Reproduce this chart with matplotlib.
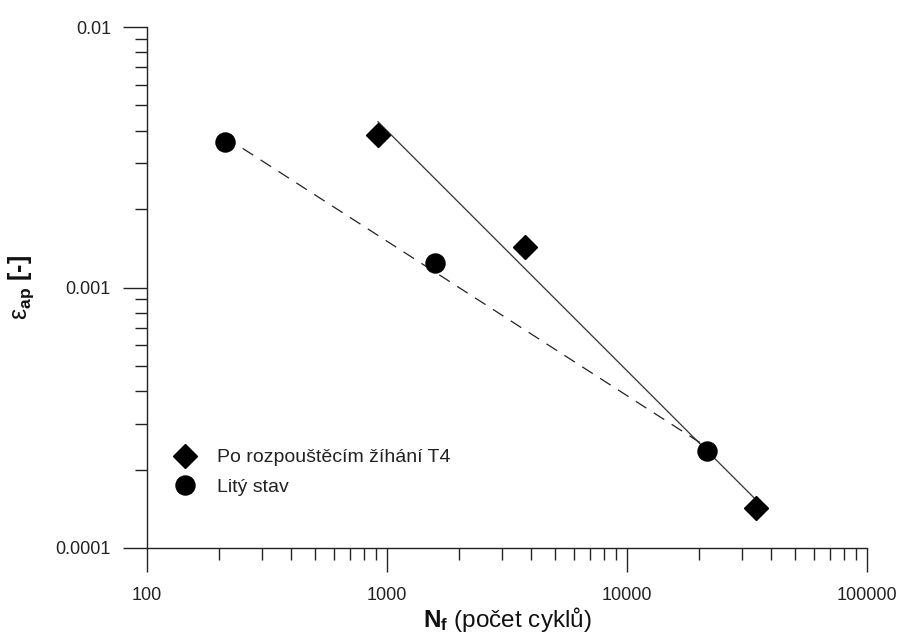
import numpy as np
import matplotlib
matplotlib.use("Agg")
import matplotlib.pyplot as plt
from matplotlib.ticker import LogLocator, FixedLocator, FixedFormatter, NullFormatter

plt.rcParams['font.family'] = ['Liberation Sans', 'DejaVu Sans']
plt.rcParams['mathtext.fontset'] = 'custom'
plt.rcParams['mathtext.rm'] = 'Liberation Sans'
plt.rcParams['mathtext.it'] = 'Liberation Sans:italic'
plt.rcParams['mathtext.bf'] = 'Liberation Sans:bold'

# Data
t4_cycles = [917, 3760, 34500]
t4_strain = [0.00385, 0.00143, 0.000142]
cast_cycles = [211, 1585, 21500]
cast_strain = [0.00362, 0.00124, 0.000236]

x_ticks = [100, 1000, 10000, 100000]
x_tick_labels = ["100", "1000", "10000", "100000"]
y_ticks = [0.0001, 0.001, 0.01]
y_tick_labels = ["0.0001", "0.001", "0.01"]

label_t4 = "Po rozpouštěcím žíhání T4"
label_cast = "Litý stav"

fig = plt.figure(figsize=(9.01, 6.35), dpi=100)
ax = fig.add_axes([147/901, 1-548/635, 720/901, 521/635])

def fit_line(xs, ys):
    lx, ly = np.log10(xs), np.log10(ys)
    k, q = np.polyfit(lx, ly, 1)
    xx = np.array([lx.min(), lx.max()])
    return 10**xx, 10**(k*xx + q)

fx, fy = fit_line(t4_cycles, t4_strain)
ax.plot(fx, fy, color='#333333', lw=0.9, zorder=2)
gx, gy = fit_line(cast_cycles, cast_strain)
l2, = ax.plot(gx, gy, color='#222222', lw=0.9, zorder=2)
l2.set_dashes([10, 7])

ax.plot(t4_cycles, t4_strain, linestyle='none', marker='D', ms=12,
        color='black', label=label_t4, zorder=3)
ax.plot(cast_cycles, cast_strain, linestyle='none', marker='o', ms=13.7,
        color='black', label=label_cast, zorder=3)

ax.set_xscale('log')
ax.set_yscale('log')
ax.set_xlim(100, 100000)
ax.set_ylim(0.0001, 0.01)

ax.xaxis.set_major_locator(FixedLocator(x_ticks))
ax.xaxis.set_major_formatter(FixedFormatter(x_tick_labels))
ax.yaxis.set_major_locator(FixedLocator(y_ticks))
ax.yaxis.set_major_formatter(FixedFormatter(y_tick_labels))
ax.xaxis.set_minor_locator(LogLocator(base=10, subs=np.arange(2, 10), numticks=20))
ax.yaxis.set_minor_locator(LogLocator(base=10, subs=np.arange(2, 10), numticks=20))
ax.xaxis.set_minor_formatter(NullFormatter())
ax.yaxis.set_minor_formatter(NullFormatter())

for s in ['top', 'right']:
    ax.spines[s].set_visible(False)
for s in ['left', 'bottom']:
    ax.spines[s].set_color('#222222')
    ax.spines[s].set_linewidth(1.0)

ax.tick_params(which='major', direction='out', length=17, width=1.0, color='#222222',
               labelsize=13, labelcolor='#222222')
ax.tick_params(axis='x', which='major', pad=11)
ax.tick_params(axis='y', which='major', pad=9)
ax.tick_params(which='minor', direction='out', length=8.6, width=1.0, color='#222222')

ax.set_xlabel(r"$\mathbf{N_f}$ (počet cyklů)", fontsize=17.5, color='#111111', labelpad=1)
ax.set_ylabel(r"$\mathrm{\varepsilon}_{\mathbf{ap}}$ [-]", fontsize=18, fontweight='bold',
              color='#111111', labelpad=14)

leg = ax.legend(loc='center left', bbox_to_anchor=(0.0393, 0.145), frameon=False,
                fontsize=14, handlelength=1.0, handletextpad=1.15, borderpad=0,
                borderaxespad=0, labelspacing=0.62, markerscale=1.0)
for t in leg.get_texts():
    t.set_color('#222222')

fig.savefig("out.png", dpi=100)
